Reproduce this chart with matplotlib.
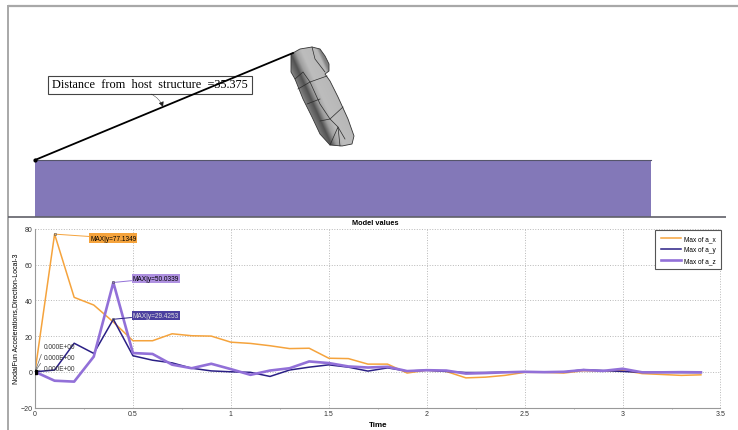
import numpy as np
import matplotlib
matplotlib.use('Agg')
import matplotlib.pyplot as plt
from matplotlib.patches import Polygon, Rectangle
from matplotlib.ticker import MultipleLocator

W, H = 738, 431

# curve data
t = [0, 0.1, 0.2, 0.3, 0.4, 0.5, 0.6, 0.7, 0.8, 0.9, 1.0, 1.1, 1.2, 1.3, 1.4, 1.5, 1.6, 1.7,
     1.8, 1.9, 2.0, 2.1, 2.2, 2.3, 2.4, 2.5, 2.6, 2.7, 2.8, 2.9, 3.0, 3.1, 3.2, 3.3, 3.4]
a_x = [0, 77.13, 41.7, 37.4, 27.9, 17.4, 17.4, 21.3, 20.2, 20, 16.6, 15.9, 14.6, 13, 13.2, 7.6, 7.4, 4.3,
       4.3, -0.7, 0.9, 0.2, -3.4, -3, -2, -0.3, -0.3, -0.7, 0.6, 0.4, 0.8, -1, -1.5, -2, -1.7]
a_y = [0, 1, 16, 10.3, 29.43, 9, 6.5, 5, 2, 0.5, 0, -0.3, -2.6, 1, 2.6, 3.9, 2.6, 0.4,
       2.2, 0.4, 0.9, 0.2, -0.4, -0.4, -0.2, 0, -0.2, -0.2, 1.2, 0.7, 0.2, -0.3, -0.3, -0.4, -0.4]
a_z = [0, -5, -5.5, 8.5, 50.03, 10.5, 10, 4, 2, 4.5, 1.5, -1.7, 0.7, 2, 5.8, 4.9, 3, 2.4,
       2.8, 0.4, 0.9, 0.7, -1, -0.7, -0.3, 0, -0.2, 0, 1, 0.5, 1.7, -0.3, -0.3, -0.2, -0.3]

xticks = [0, 0.5, 1, 1.5, 2, 2.5, 3, 3.5]
xticklabels = ['0', '0.5', '1', '1.5', '2', '2.5', '3', '3.5']
yticks = [-20, 0, 20, 40, 60, 80]

orange = '#f5a33c'
navy = '#2a1f85'
violet = '#9270d8'

# 3d view, all in pixels of the picture
plate_px = [35, 161, 651, 217.5]
distance_line_px = [(35, 161), (293, 54)]
body_px = [(291, 55), (300, 50), (312, 48), (320, 50), (325, 57), (329, 65), (329, 72), (325, 75),
           (330, 82), (338, 98), (348, 120), (354, 137), (352, 145), (342, 147), (330, 146),
           (320, 135), (312, 118), (303, 100), (295, 80), (291, 73)]
body_lines_px = [[(295, 80), (303, 73), (310, 83), (320, 105), (330, 120), (338, 128), (345, 140)],
                 [(312, 48), (315, 60), (325, 73)],
                 [(298, 90), (310, 83), (327, 77)],
                 [(307, 105), (320, 100)],
                 [(320, 122), (330, 120), (343, 108)],
                 [(330, 146), (338, 128), (340, 147)]]

fig = plt.figure(figsize=(W / 100, H / 100), dpi=100)

# overlay in pixel coords
bg = fig.add_axes([0, 0, 1, 1])
bg.set_xlim(0, W)
bg.set_ylim(H, 0)
bg.axis('off')

bg.plot([8, 8], [6, 431], color='#a8a8a8', lw=1.4, solid_capstyle='butt')
bg.plot([7.5, 738], [6.5, 6.5], color='#a8a8a8', lw=1.6, solid_capstyle='butt')
bg.plot([8, 726], [217.7, 217.7], color='#606068', lw=1.2, solid_capstyle='butt')

x0, y0, x1, y1 = plate_px
bg.add_patch(Rectangle((x0, y0), x1 - x0, y1 - y0, fc='#8378b8', ec='none'))
bg.plot([x0, x1], [y0, y0], color='#55556a', lw=0.8)

# body shading across its long axis
gx, gy = np.meshgrid(np.arange(280, 360, 0.5), np.arange(44, 150, 0.5))
d = (gx - 290) * 0.914 - (gy - 60) * 0.405
shade = np.interp(d, [-5, -2, 3, 8, 14, 28, 31], [0.6, 0.45, 0.32, 0.62, 0.74, 0.72, 0.5])
img = bg.imshow(shade, cmap='gray', vmin=0, vmax=1, extent=[280, 360, 150, 44],
                aspect='auto', zorder=2)
clip = Polygon(body_px, closed=True, fc='none', ec='#333333', lw=0.6, zorder=3)
bg.add_patch(clip)
img.set_clip_path(clip)
bg.set_xlim(0, W)
bg.set_ylim(H, 0)
for seg in body_lines_px:
    bg.plot(*zip(*seg), color='#2a2a2a', lw=0.5, zorder=4)

bg.plot(*zip(*distance_line_px), color='black', lw=1.3, zorder=5)
bg.plot(35, 161, 'o', color='black', ms=2, zorder=5)
bg.annotate('', xy=(163, 108), xytext=(151, 95),
            arrowprops=dict(arrowstyle='-|>', color='#222222', lw=0.3, mutation_scale=8,
                            shrinkA=0, shrinkB=0, connectionstyle='arc3,rad=-0.2'), zorder=5)
bg.add_patch(Rectangle((48, 76.5), 204, 18.5, fc='none', ec='#444444', lw=0.8, zorder=4))
bg.text(150, 85.5, 'Distance  from  host  structure  =35.375', family='Liberation Serif', fontsize=8.85,
        ha='center', va='center', color='black', zorder=6)

# curve plot
ax = fig.add_axes([35 / W, 1 - 408.5 / H, (720.5 - 35) / W, (408.5 - 230) / H])
ax.patch.set_alpha(0)
ax.plot(t, a_x, color=orange, lw=1.1, label='Max of a_x')
ax.plot(t, a_y, color=navy, lw=1.1, label='Max of a_y')
ax.plot(t, a_z, color=violet, lw=1.9, label='Max of a_z')
ax.set_xlim(0, 3.5)
ax.set_ylim(-20, 80)
ax.set_xticks(xticks, xticklabels)
ax.set_yticks(yticks)
ax.xaxis.set_minor_locator(MultipleLocator(0.25))
ax.grid(True, color='#b8b8b8', ls=':', lw=0.7)
ax.tick_params(labelsize=5, length=0, pad=2, colors='#333333')
ax.tick_params(which='minor', length=1, color='#999999')
for s in ['top', 'right']:
    ax.spines[s].set_visible(False)
for s in ['left', 'bottom']:
    ax.spines[s].set_color('#999999')
ax.set_title('Model values', fontsize=5.3, fontweight='bold', pad=3.5, x=0.497, family='Liberation Sans')
ax.set_xlabel('Time', fontsize=5.8, fontweight='bold', labelpad=2.5, family='Liberation Sans')
ax.set_ylabel('NodalFun Accelerations,Direction-Local-3', fontsize=5, labelpad=0.5, family='Liberation Sans')
for lab in ax.get_xticklabels() + ax.get_yticklabels():
    lab.set_family('Liberation Sans')

# max callouts
ax.plot([0.1, 0.4, 0.4], [77.13, 50.03, 29.43], 'o', ms=1.8, mfc='none', mec='#555555', mew=0.4, zorder=5)
ax.annotate('MAX|y=77.1349', xy=(0.1, 77.13), xytext=(0.281, 74.9), fontsize=4.7, va='center', family='Liberation Sans',
            bbox=dict(boxstyle='square,pad=0.18', fc=orange, ec='none'),
            arrowprops=dict(arrowstyle='-', color=orange, lw=0.7, shrinkA=0, shrinkB=0))
ax.annotate('MAX|y=50.0339', xy=(0.4, 50.03), xytext=(0.499, 52.4), fontsize=4.7, va='center', family='Liberation Sans',
            bbox=dict(boxstyle='square,pad=0.18', fc='#ae90e0', ec='none'),
            arrowprops=dict(arrowstyle='-', color=violet, lw=0.7, shrinkA=0, shrinkB=0))
ax.annotate('MAX|y=29.4253', xy=(0.4, 29.43), xytext=(0.499, 31.7), fontsize=4.7, va='center', color='#dddddd', family='Liberation Sans',
            bbox=dict(boxstyle='square,pad=0.18', fc='#4b3fa0', ec='none'),
            arrowprops=dict(arrowstyle='-', color=navy, lw=0.7, shrinkA=0, shrinkB=0))

# zero labels at the origin
for ty in [14, 7.8, 1.7]:
    ax.annotate('0.000E+00', xy=(0, 0), xytext=(0.047, ty), fontsize=4.7, va='center', color='#333333',
                family='Liberation Sans',
                arrowprops=dict(arrowstyle='-', color='#666666', lw=0.5, shrinkA=1, shrinkB=0, relpos=(0, 0.5)))
ax.plot(0, 0, 's', color='black', ms=2.2, zorder=5)

leg = ax.legend(loc='upper right', bbox_to_anchor=(1.0, 0.995), borderaxespad=0, frameon=True,
                fancybox=False, edgecolor='#555555', framealpha=1, labelspacing=0.62, handlelength=3.1,
                handletextpad=0.4, borderpad=0.8, prop={'family': 'Liberation Sans', 'size': 4.7})
leg.get_frame().set_linewidth(0.8)

fig.savefig('out.png', dpi=100)
